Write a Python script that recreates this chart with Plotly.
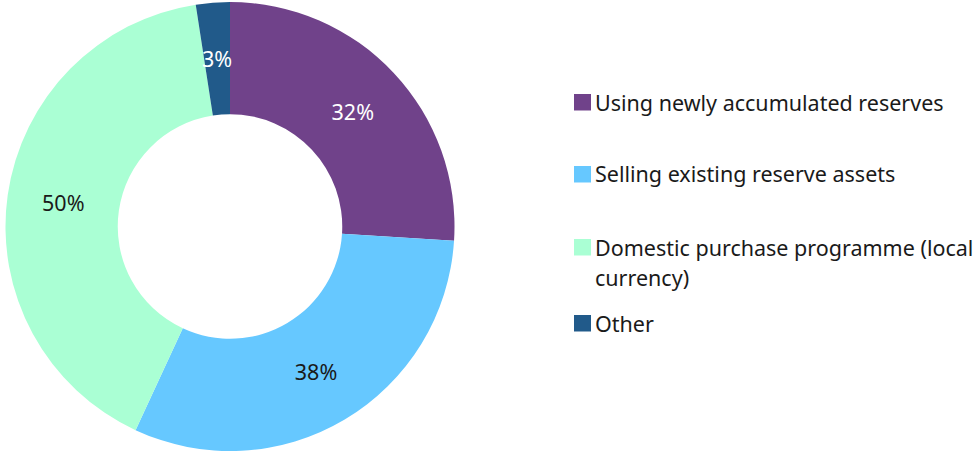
import math
import plotly.graph_objects as go

# Funding sources for reserve build-up (share of respondents, %)
labels = [
    "Using newly accumulated reserves",
    "Selling existing reserve assets",
    "Domestic purchase programme (local<br>currency)",
    "Other",
]
values = [32, 38, 50, 3]
colors = ["#70428a", "#66c8ff", "#aaffd4", "#215a8a"]
text_colors = ["#ffffff", "#1a1a1a", "#1a1a1a", "#ffffff"]

W, H = 973, 451
FONT = "Noto Sans"
FS = 21.5

# Donut geometry in pixels (domain is square, so radius = half its side)
dom_x = [5.5 / W, 454.5 / W]
dom_y = [0, 449 / H]
cx = (dom_x[0] + dom_x[1]) / 2 * W
cy = H - (dom_y[0] + dom_y[1]) / 2 * H
r_out = (dom_x[1] - dom_x[0]) * W / 2
hole = 0.5
r_mid = r_out * (1 + hole) / 2

# The thin last slice gets its label as an annotation at the ring midline
text_pos = ["inside", "inside", "inside", "none"]

fig = go.Figure(
    go.Pie(
        labels=labels,
        values=values,
        hole=hole,
        sort=False,
        direction="clockwise",
        rotation=0,
        marker=dict(colors=colors, line=dict(width=0)),
        texttemplate="%{value}%",
        textposition=text_pos,
        insidetextorientation="horizontal",
        textfont=dict(family=FONT, size=FS, color=text_colors),
        domain=dict(x=dom_x, y=dom_y),
        showlegend=False,
        hoverinfo="label+value",
    )
)

annotations = []
total = sum(values)
start = sum(values[:3]) / total
mid_ang = 2 * math.pi * (start + values[3] / total / 2)
lx = cx + r_mid * math.sin(mid_ang)
ly = cy - r_mid * math.cos(mid_ang)
annotations.append(
    dict(
        xref="paper", yref="paper",
        x=lx / W, y=1 - ly / H,
        xanchor="center", yanchor="middle",
        text=f"{values[3]}%", showarrow=False,
        font=dict(family=FONT, size=FS, color=text_colors[3]),
    )
)

# Legend drawn as swatches plus text, one row per category
row_y = [102, 174, 247, 323]
line_step = 30
shapes = []
for lab, col, yc in zip(labels, colors, row_y):
    shapes.append(
        dict(
            type="rect", xref="paper", yref="paper",
            x0=574 / W, x1=591 / W,
            y0=1 - (yc - 8) / H, y1=1 - (yc + 8.5) / H,
            fillcolor=col, line=dict(width=0),
        )
    )
    for i, line in enumerate(lab.split("<br>")):
        annotations.append(
            dict(
                xref="paper", yref="paper",
                x=593 / W, y=1 - (yc + i * line_step) / H,
                xanchor="left", yanchor="middle",
                text=line, showarrow=False,
                font=dict(family=FONT, size=FS, color="#1a1a1a"),
            )
        )

fig.update_layout(
    width=W,
    height=H,
    margin=dict(l=0, r=0, t=0, b=0),
    paper_bgcolor="white",
    plot_bgcolor="white",
    uniformtext=dict(minsize=FS, mode="show"),
    shapes=shapes,
    annotations=annotations,
)

fig.write_html("out.html")
